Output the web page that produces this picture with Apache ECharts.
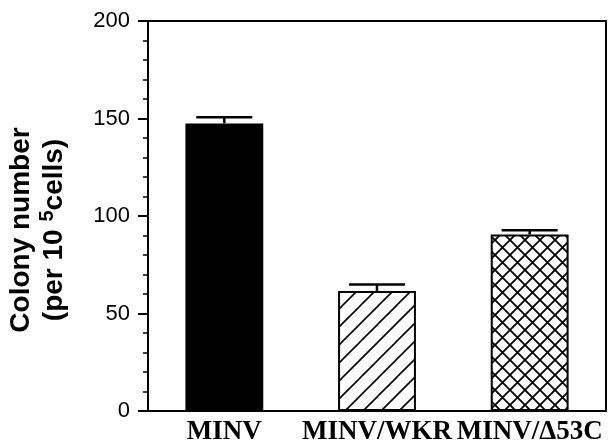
<!DOCTYPE html>
<html>
<head>
<meta charset="utf-8">
<script src="https://cdn.jsdelivr.net/npm/echarts@6/dist/echarts.min.js"></script>
<style>html,body{margin:0;padding:0;background:#fff}#c{width:616px;height:443px}</style>
</head>
<body>
<div id="c"></div>
<script>
const categories = ['MINV', 'MINV/WKR', 'MINV/\u039453C'];
const values = [147.5, 61.5, 90.5];
const errors = [3.2, 3.4, 2.2];
const yTicks = [0, 50, 100, 150, 200];

function makePattern(type) {
  const s = type === 'cross' ? 15 : 18;
  const c = document.createElement('canvas');
  c.width = s; c.height = s;
  const g = c.getContext('2d');
  g.fillStyle = '#fff'; g.fillRect(0, 0, s, s);
  g.strokeStyle = '#000'; g.lineWidth = type === 'cross' ? 1.8 : 1.6;
  g.beginPath();
  g.moveTo(-1, s + 1); g.lineTo(s + 1, -1);
  g.moveTo(-1, 1); g.lineTo(1, -1);
  g.moveTo(s - 1, s + 1); g.lineTo(s + 1, s - 1);
  if (type === 'cross') {
    g.moveTo(-1, -1); g.lineTo(s + 1, s + 1);
    g.moveTo(s - 1, -1); g.lineTo(s + 1, 1);
    g.moveTo(-1, s - 1); g.lineTo(1, s + 1);
  }
  g.stroke();
  return { image: c, repeat: 'repeat' };
}

const fills = ['#000', makePattern('diag'), makePattern('cross')];

const chart = echarts.init(document.getElementById('c'));
chart.setOption({
  animation: false,
  grid: { left: 148, right: 10, top: 21, bottom: 32, outerBoundsMode: 'none', containLabel: false, show: true, borderColor: '#000', borderWidth: 2, backgroundColor: 'transparent' },
  xAxis: {
    type: 'category', data: categories,
    axisLine: { lineStyle: { color: '#000', width: 2 } },
    axisTick: { show: false },
    axisLabel: { color: '#000', fontFamily: 'Liberation Serif', fontWeight: 'bold', fontSize: 27, margin: 8, interval: 0, hideOverlap: false }
  },
  yAxis: {
    type: 'value', min: yTicks[0], max: yTicks[yTicks.length - 1], interval: 50,
    splitLine: { show: false },
    axisLine: { show: true, lineStyle: { color: '#000', width: 2 } },
    axisTick: { show: true, length: 10, lineStyle: { color: '#000', width: 2 } },
    minorTick: { show: true, splitNumber: 5, length: 5, lineStyle: { color: '#000', width: 1.5 } },
    axisLabel: { color: '#000', fontFamily: 'Liberation Sans', fontSize: 22, margin: 18 }
  },
  series: [
    {
      type: 'bar', barWidth: '51%',
      data: values.map((v, i) => ({ value: v, itemStyle: { color: fills[i] } })),
      itemStyle: { borderColor: '#000', borderWidth: 2 }
    },
    {
      type: 'custom',
      data: values.map((v, i) => [i, v, v + errors[i]]),
      renderItem: function (params, api) {
        const lo = api.coord([api.value(0), api.value(1)]);
        const hi = api.coord([api.value(0), api.value(2)]);
        const hw = 28;
        return {
          type: 'group', children: [
            { type: 'line', shape: { x1: lo[0], y1: lo[1], x2: hi[0], y2: hi[1] }, style: { stroke: '#000', lineWidth: 2.5 } },
            { type: 'line', shape: { x1: hi[0] - hw, y1: hi[1], x2: hi[0] + hw, y2: hi[1] }, style: { stroke: '#000', lineWidth: 2.5 } }
          ]
        };
      },
      z: 3
    }
  ],
  graphic: [
    { type: 'text', x: 21, y: 230, rotation: Math.PI / 2,
      style: { text: 'Colony number', font: 'bold 28px "Liberation Sans"', fill: '#000', align: 'center', verticalAlign: 'middle' } },
    { type: 'text', x: 54, y: 230, rotation: Math.PI / 2,
      style: { text: '(per 10 {s|5}cells)', font: 'bold 28px "Liberation Sans"', fill: '#000', align: 'center', verticalAlign: 'middle',
        rich: { s: { font: 'bold 20px "Liberation Sans"', fill: '#000', verticalAlign: 'top', padding: [0, 0, 14, 0] } } } }
  ]
});
</script>
</body>
</html>
